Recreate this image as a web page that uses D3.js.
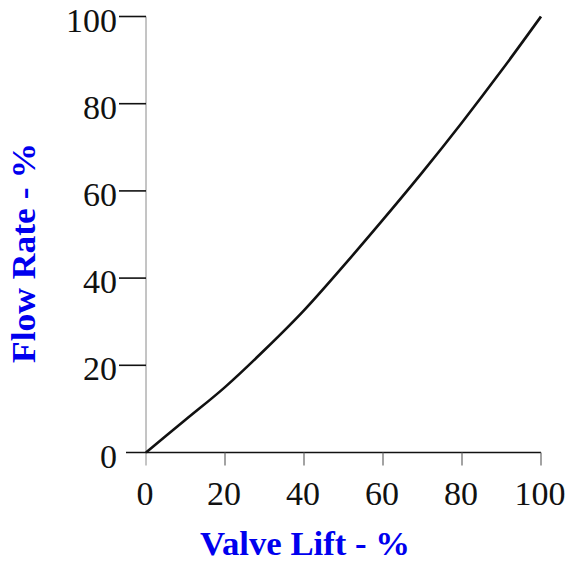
<!DOCTYPE html>
<html>
<head>
<meta charset="utf-8">
<script src="https://cdn.jsdelivr.net/npm/d3@7"></script>
<style>
  html, body { margin: 0; padding: 0; background: #fff; }
  svg { display: block; }
</style>
</head>
<body>
<svg id="chart" width="581" height="561"></svg>
<script>
// Data
const valveLift = [0, 10, 20, 30, 40, 50, 60, 70, 80, 90, 100];
const flowRate  = [0, 7.5, 15.0, 23.5, 32.6, 42.8, 53.4, 64.3, 75.7, 87.6, 100];
const xTicks = [0, 20, 40, 60, 80, 100];
const yTicks = [0, 20, 40, 60, 80, 100];
const xTitle = "Valve Lift - %";
const yTitle = "Flow Rate - %";

const svg = d3.select("#chart");
const x = d3.scaleLinear().domain([0, 100]).range([146, 541]);
const y = d3.scaleLinear().domain([0, 100]).range([452.5, 16.5]);

// y axis vertical line (thin grey), extends below to tick length
svg.append("line")
  .attr("x1", x(0)).attr("x2", x(0))
  .attr("y1", y(100)).attr("y2", y(0) + 13)
  .attr("stroke", "#8a8a8a").attr("stroke-width", 1);

// x axis horizontal line
svg.append("line")
  .attr("x1", x(0) - 20).attr("x2", x(100))
  .attr("y1", y(0)).attr("y2", y(0))
  .attr("stroke", "#111").attr("stroke-width", 1.6);

// y ticks (extend left)
svg.selectAll(".ytick").data(yTicks.filter(d => d > 0)).enter().append("line")
  .attr("x1", x(0) - 27).attr("x2", x(0))
  .attr("y1", d => y(d)).attr("y2", d => y(d))
  .attr("stroke", "#111").attr("stroke-width", 1.6);

// x ticks (extend down)
svg.selectAll(".xtick").data(xTicks.filter(d => d > 0)).enter().append("line")
  .attr("x1", d => x(d)).attr("x2", d => x(d))
  .attr("y1", y(0)).attr("y2", y(0) + 13)
  .attr("stroke", "#666").attr("stroke-width", 1.2);

// y tick labels
svg.selectAll(".ylab").data(yTicks).enter().append("text")
  .attr("x", 117)
  .attr("y", d => y(d) + 15)
  .attr("text-anchor", "end")
  .attr("font-family", "'Liberation Serif', serif")
  .attr("font-size", 34)
  .attr("fill", "#111")
  .text(d => d);

// x tick labels
svg.selectAll(".xlab").data(xTicks).enter().append("text")
  .attr("x", d => x(d) - 1)
  .attr("y", 505)
  .attr("text-anchor", "middle")
  .attr("font-family", "'Liberation Serif', serif")
  .attr("font-size", 34)
  .attr("fill", "#111")
  .text(d => d);

// curve
const line = d3.line()
  .x((d, i) => x(valveLift[i]))
  .y((d, i) => y(flowRate[i]))
  .curve(d3.curveMonotoneX);
svg.append("path")
  .datum(valveLift)
  .attr("d", line)
  .attr("fill", "none")
  .attr("stroke", "#111")
  .attr("stroke-width", 2.6);

// axis titles
svg.append("text")
  .attr("x", 305).attr("y", 555)
  .attr("text-anchor", "middle")
  .attr("font-family", "'Liberation Serif', serif")
  .attr("font-weight", "bold")
  .attr("font-size", 33)
  .attr("fill", "#0000ee")
  .attr("textLength", 210)
  .attr("lengthAdjust", "spacingAndGlyphs")
  .text(xTitle);

svg.append("text")
  .attr("transform", "translate(35,253) rotate(-90)")
  .attr("text-anchor", "middle")
  .attr("font-family", "'Liberation Serif', serif")
  .attr("font-weight", "bold")
  .attr("font-size", 33)
  .attr("fill", "#0000ee")
  .attr("textLength", 220)
  .attr("lengthAdjust", "spacingAndGlyphs")
  .text(yTitle);
</script>
</body>
</html>
